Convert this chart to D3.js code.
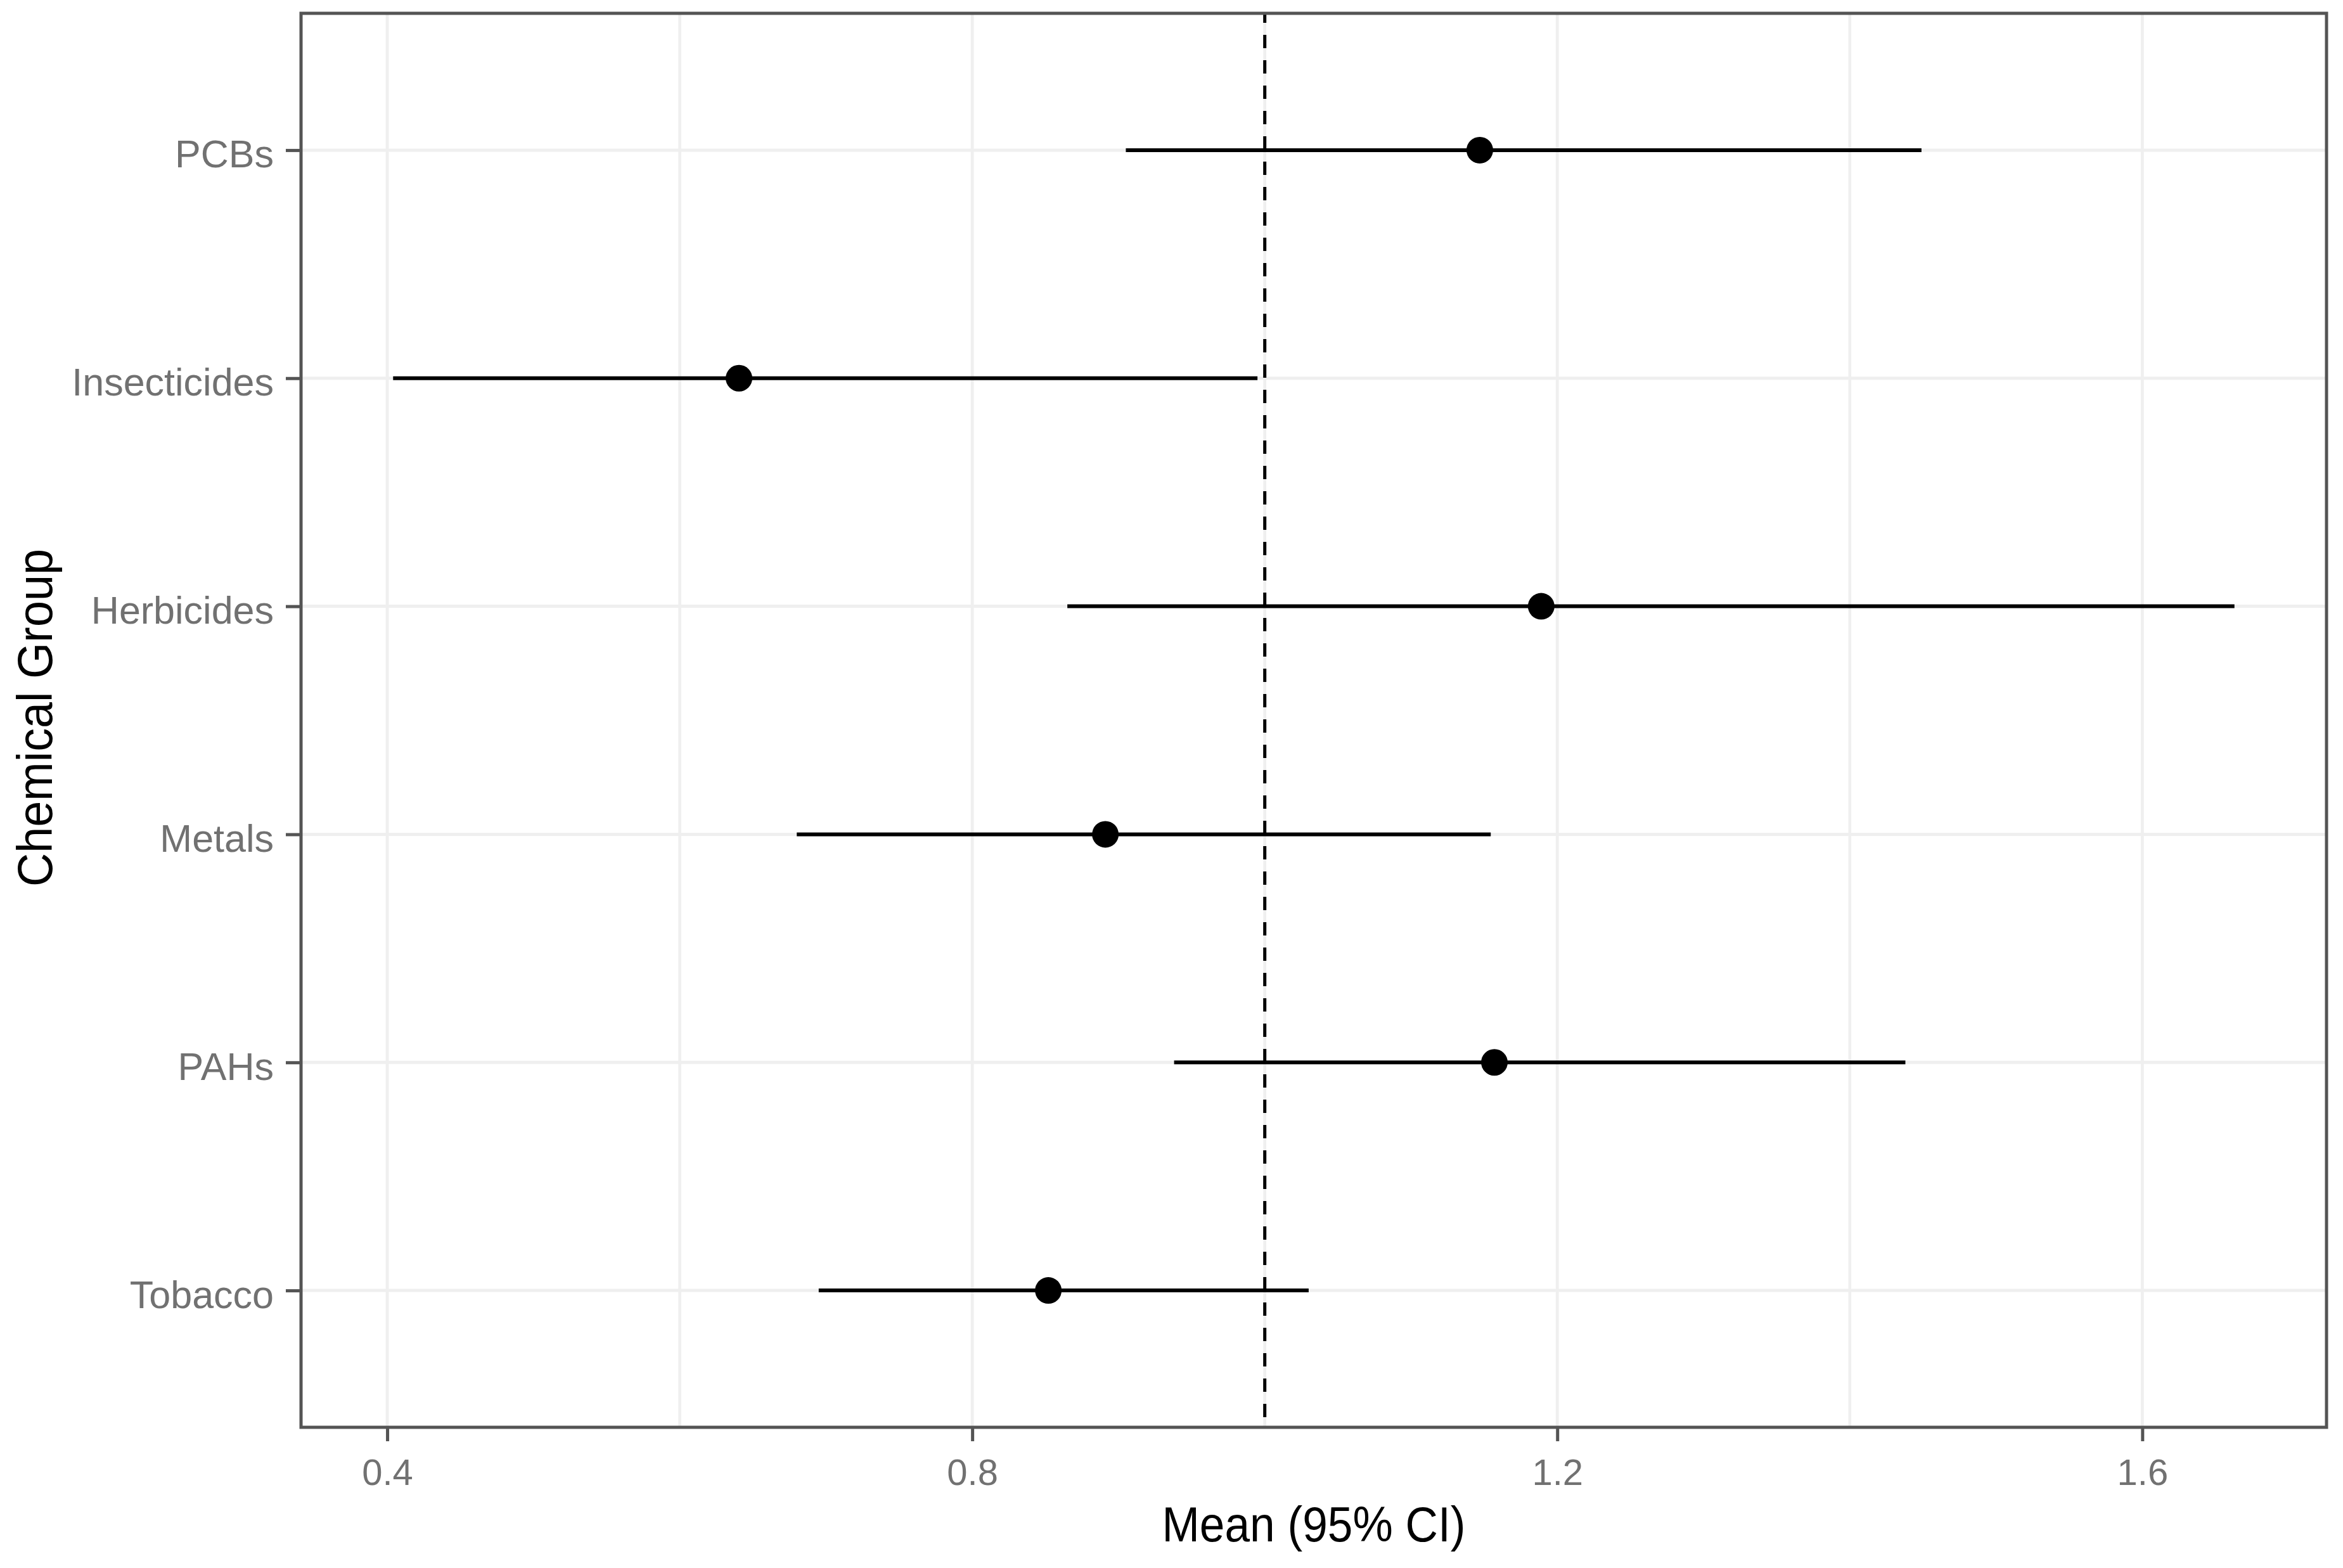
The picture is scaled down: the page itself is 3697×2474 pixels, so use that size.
<!DOCTYPE html>
<html>
<head>
<meta charset="utf-8">
<script src="https://cdn.jsdelivr.net/npm/d3@7"></script>
<style>
  html, body { margin: 0; padding: 0; background: #ffffff; }
  svg { display: block; }
</style>
</head>
<body>
<svg id="chart" width="3697" height="2474"></svg>
<script>
// ---- data (top to bottom) ----
const categories = ["PCBs", "Insecticides", "Herbicides", "Metals", "PAHs", "Tobacco"];
const means      = [1.147, 0.6405, 1.189, 0.891, 1.157, 0.852];
const lowerCI    = [0.905, 0.404, 0.865, 0.680, 0.938, 0.695];
const upperCI    = [1.449, 0.995, 1.663, 1.1545, 1.438, 1.030];
const xTicks     = [0.4, 0.8, 1.2, 1.6];
const xMinor     = [0.6, 1.0, 1.4];
const refValue   = 1.0;
const xTitle = "Mean (95% CI)";
const yTitle = "Chemical Group";

const rows = categories.map((c, i) => ({ cat: c, mean: means[i], lo: lowerCI[i], hi: upperCI[i] }));

// ---- layout ----
const panel = { left: 475, right: 3671, top: 21, bottom: 2252 };
const svg = d3.select("#chart");
const FONT = "'Liberation Sans', Arial, Helvetica, sans-serif";

const dmin = d3.min(lowerCI), dmax = d3.max(upperCI);
const pad = (dmax - dmin) * 0.05;
const x = d3.scaleLinear().domain([dmin - pad, dmax + pad]).range([panel.left, panel.right]);
const y = d3.scalePoint().domain(categories).range([panel.top, panel.bottom]).padding(0.6);

const gridColor = "#EFEFEF";
const g = svg.append("g");

// grid
g.selectAll("line.minor").data(xMinor).join("line")
  .attr("x1", d => x(d)).attr("x2", d => x(d))
  .attr("y1", panel.top).attr("y2", panel.bottom)
  .attr("stroke", gridColor).attr("stroke-width", 4.6);
g.selectAll("line.major").data(xTicks).join("line")
  .attr("x1", d => x(d)).attr("x2", d => x(d))
  .attr("y1", panel.top).attr("y2", panel.bottom)
  .attr("stroke", gridColor).attr("stroke-width", 4.8);
g.selectAll("line.hgrid").data(categories).join("line")
  .attr("x1", panel.left).attr("x2", panel.right)
  .attr("y1", d => y(d)).attr("y2", d => y(d))
  .attr("stroke", gridColor).attr("stroke-width", 5);

// reference line
g.append("line")
  .attr("x1", x(refValue)).attr("x2", x(refValue))
  .attr("y1", panel.top).attr("y2", panel.bottom)
  .attr("stroke", "#000").attr("stroke-width", 5)
  .attr("stroke-dasharray", "21 19").attr("stroke-dashoffset", 6);

// error bars
g.selectAll("line.err").data(rows).join("line")
  .attr("x1", d => x(d.lo)).attr("x2", d => x(d.hi))
  .attr("y1", d => y(d.cat)).attr("y2", d => y(d.cat))
  .attr("stroke", "#000").attr("stroke-width", 6);

// points
g.selectAll("circle.pt").data(rows).join("circle")
  .attr("cx", d => x(d.mean)).attr("cy", d => y(d.cat))
  .attr("r", 21).attr("fill", "#000");

// panel border
g.append("rect")
  .attr("x", panel.left).attr("y", panel.top)
  .attr("width", panel.right - panel.left).attr("height", panel.bottom - panel.top)
  .attr("fill", "none").attr("stroke", "#545454").attr("stroke-width", 5);

// x axis
const xAxis = d3.axisBottom(x).tickValues(xTicks).tickSize(20).tickPadding(0)
  .tickFormat(d3.format(".1f"));
const gx = svg.append("g").attr("transform", `translate(0,${panel.bottom + 2})`).call(xAxis);
gx.select(".domain").remove();
gx.selectAll(".tick line").attr("stroke", "#545454").attr("stroke-width", 5);
gx.selectAll(".tick text").attr("y", 89).attr("dy", null)
  .attr("fill", "#717171").attr("font-family", FONT).attr("font-size", 58);

// y axis
const yAxis = d3.axisLeft(y).tickSize(22).tickPadding(0);
const gy = svg.append("g").attr("transform", `translate(${panel.left - 2},0)`).call(yAxis);
gy.select(".domain").remove();
gy.selectAll(".tick line").attr("stroke", "#545454").attr("stroke-width", 5);
gy.selectAll(".tick text").attr("x", -41).attr("dy", null).attr("y", 27)
  .attr("fill", "#717171").attr("font-family", FONT).attr("font-size", 61);

// axis titles
svg.append("text")
  .attr("x", (panel.left + panel.right) / 2).attr("y", 2432)
  .attr("text-anchor", "middle").attr("font-family", FONT).attr("font-size", 77)
  .attr("fill", "#000")
  .attr("textLength", 479).attr("lengthAdjust", "spacingAndGlyphs")
  .text(xTitle);

svg.append("text")
  .attr("transform", `translate(82,${(panel.top + panel.bottom) / 2 - 4}) rotate(-90)`)
  .attr("text-anchor", "middle").attr("font-family", FONT).attr("font-size", 77)
  .attr("fill", "#000")
  .attr("textLength", 533).attr("lengthAdjust", "spacingAndGlyphs")
  .text(yTitle);
</script>
</body>
</html>
